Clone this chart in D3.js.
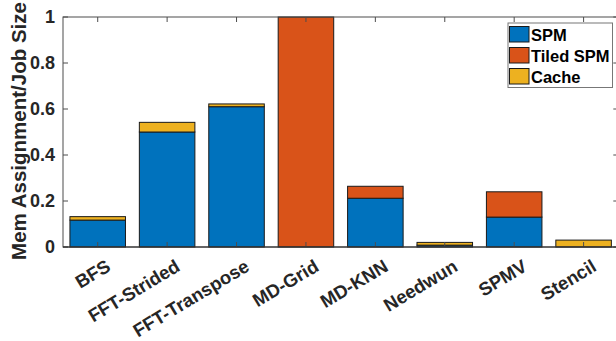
<!DOCTYPE html>
<html>
<head>
<meta charset="utf-8">
<script src="https://cdn.jsdelivr.net/npm/d3@7/dist/d3.min.js"></script>
<style>
  html, body { margin: 0; padding: 0; background: #fff; }
  svg { display: block; font-family: Arial, "Liberation Sans", sans-serif; }
</style>
</head>
<body>
<svg id="chart" width="616" height="341"></svg>
<script>
// ── Data ─────────────────────────────────────────────
const categories = ['BFS', 'FFT-Strided', 'FFT-Transpose', 'MD-Grid', 'MD-KNN', 'Needwun', 'SPMV', 'Stencil'];
const seriesNames = ['SPM', 'Tiled SPM', 'Cache'];
const spm      = [0.117, 0.500, 0.610, 0,    0.212, 0.008, 0.130, 0];
const tiledSpm = [0,     0,     0,     1.0,  0.052, 0,     0.110, 0];
const cache    = [0.015, 0.042, 0.012, 0,    0,     0.012, 0,     0.030];
const yTicks   = [0, 0.2, 0.4, 0.6, 0.8, 1];

const colors = ['#0072BD', '#D95319', '#EDB120'];
const textColor = '#262626';
const axisColor = '#4d4d4d';

// ── Layout ───────────────────────────────────────────
const svg = d3.select('#chart');
const plot = { left: 63, right: 618.3, top: 17, bottom: 247 };

const x = d3.scaleBand()
  .domain(categories)
  .range([plot.left, plot.right])
  .paddingInner(0.2)
  .paddingOuter(0.1);

const y = d3.scaleLinear()
  .domain([0, 1])
  .range([plot.bottom, plot.top]);

const rows = categories.map((c, i) => ({ cat: c, 'SPM': spm[i], 'Tiled SPM': tiledSpm[i], 'Cache': cache[i] }));
const stacked = d3.stack().keys(seriesNames)(rows);

// ── Bars ─────────────────────────────────────────────
const barLayer = svg.append('g');
stacked.forEach((layer, si) => {
  barLayer.selectAll(null)
    .data(layer.filter(d => d[1] - d[0] > 0))
    .join('rect')
    .attr('x', d => x(d.data.cat))
    .attr('y', d => y(d[1]))
    .attr('width', x.bandwidth())
    .attr('height', d => y(d[0]) - y(d[1]))
    .attr('fill', colors[si])
    .attr('stroke', '#1a1a1a')
    .attr('stroke-width', 1);
});

// ── Axes (MATLAB style box, inward ticks) ────────────
const tickLen = 5;
const axes = svg.append('g').attr('stroke', axisColor).attr('stroke-width', 1).attr('fill', 'none');

axes.append('rect')
  .attr('x', plot.left).attr('y', plot.top)
  .attr('width', plot.right - plot.left).attr('height', plot.bottom - plot.top);

// x ticks bottom and top
categories.forEach(c => {
  const cx = x(c) + x.bandwidth() / 2;
  axes.append('line').attr('x1', cx).attr('x2', cx).attr('y1', plot.bottom).attr('y2', plot.bottom - tickLen);
  axes.append('line').attr('x1', cx).attr('x2', cx).attr('y1', plot.top).attr('y2', plot.top + tickLen);
});
// y ticks left and right
yTicks.forEach(t => {
  axes.append('line').attr('x1', plot.left).attr('x2', plot.left + tickLen).attr('y1', y(t)).attr('y2', y(t));
  axes.append('line').attr('x1', plot.right).attr('x2', plot.right - tickLen).attr('y1', y(t)).attr('y2', y(t));
});
// darker bottom axis line
axes.append('line')
  .attr('x1', plot.left).attr('x2', plot.right)
  .attr('y1', plot.bottom).attr('y2', plot.bottom)
  .attr('stroke', '#262626');

// y tick labels
svg.append('g').selectAll('text')
  .data(yTicks)
  .join('text')
  .attr('x', plot.left - 8)
  .attr('y', d => y(d))
  .attr('dy', '0.36em')
  .attr('text-anchor', 'end')
  .attr('font-size', 18)
  .attr('font-weight', 'bold')
  .attr('fill', textColor)
  .text(d => d3.format('~g')(d));

// x tick labels, rotated
svg.append('g').selectAll('text')
  .data(categories)
  .join('text')
  .attr('transform', d => `translate(${x(d) + x.bandwidth() / 2 + 7},${plot.bottom + 11}) rotate(-31)`)
  .attr('text-anchor', 'end')
  .attr('dy', '0.75em')
  .attr('font-size', 18.5)
  .attr('font-weight', 'bold')
  .attr('fill', textColor)
  .text(d => d);

// y axis title
svg.append('text')
  .attr('transform', `translate(26,${(plot.top + plot.bottom) / 2 - 1}) rotate(-90)`)
  .attr('text-anchor', 'middle')
  .attr('font-size', 20.5)
  .attr('font-weight', 'bold')
  .attr('fill', textColor)
  .text('Mem Assignment/Job Size');

// ── Legend ───────────────────────────────────────────
const legend = svg.append('g').attr('transform', 'translate(508,23)');
legend.append('rect')
  .attr('width', 104.5).attr('height', 64.5)
  .attr('fill', '#fff')
  .attr('stroke', '#777')
  .attr('stroke-width', 1);

seriesNames.forEach((name, i) => {
  const g = legend.append('g').attr('transform', `translate(1.5,${3.5 + i * 21})`);
  g.append('rect')
    .attr('width', 19.5).attr('height', 15.5)
    .attr('fill', colors[i])
    .attr('stroke', '#1a1a1a')
    .attr('stroke-width', 1);
  g.append('text')
    .attr('x', 21.5)
    .attr('y', 8)
    .attr('dy', '0.38em')
    .attr('font-size', 16.5)
    .attr('font-weight', 'bold')
    .attr('fill', '#000')
    .text(name);
});
</script>
</body>
</html>
